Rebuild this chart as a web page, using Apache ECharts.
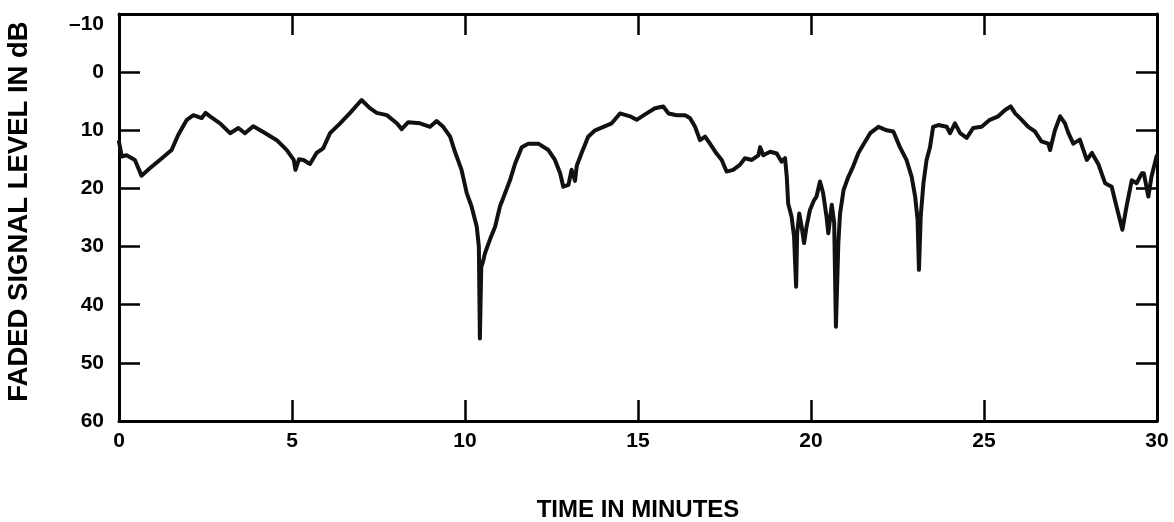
<!DOCTYPE html>
<html>
<head>
<meta charset="utf-8">
<script src="https://cdn.jsdelivr.net/npm/echarts@6/dist/echarts.min.js"></script>
<style>
html,body{margin:0;padding:0;background:#fff;}
#chart{width:1174px;height:522px;}
</style>
</head>
<body>
<div id="chart"></div>
<script>
// Time in minutes
var times = [
0.0,0.08,0.22,0.46,0.65,0.9,1.18,1.52,1.71,1.96,2.15,2.39,2.5,2.63,2.92,3.21,3.45,3.64,3.88,4.17,
4.56,4.85,5.05,5.1,5.2,5.33,5.52,5.71,5.9,6.1,6.39,6.68,6.92,7.01,7.25,7.45,7.74,8.03,8.17,8.36,
8.7,8.99,9.18,9.37,9.57,9.71,9.9,10.05,10.19,10.34,10.4,10.43,10.47,10.51,10.58,10.72,10.87,11.01,11.16,11.3,
11.45,11.64,11.83,12.12,12.41,12.6,12.75,12.84,12.99,13.08,13.18,13.23,13.37,13.56,13.76,14.0,14.24,14.48,14.77,14.96,
15.25,15.49,15.73,15.88,16.12,16.36,16.5,16.65,16.79,16.94,17.08,17.27,17.42,17.56,17.75,17.95,18.09,18.29,18.48,18.53,
18.62,18.82,19.01,19.15,19.25,19.3,19.34,19.44,19.51,19.57,19.6,19.66,19.73,19.8,19.87,19.97,20.09,20.16,20.26,20.35,
20.45,20.5,20.6,20.67,20.72,20.79,20.84,20.94,21.08,21.22,21.37,21.51,21.71,21.95,22.19,22.38,22.57,22.76,22.91,23.01,
23.08,23.12,23.17,23.25,23.34,23.44,23.53,23.68,23.92,24.02,24.16,24.31,24.5,24.69,24.93,25.17,25.41,25.61,25.77,25.9,
26.09,26.28,26.47,26.66,26.86,26.91,27.05,27.2,27.34,27.44,27.58,27.77,27.97,28.12,28.31,28.5,28.69,28.83,29.0,29.12,
29.27,29.41,29.56,29.62,29.75,29.84,29.99
];
// Faded signal level in dB
var levels = [
12.0,14.5,14.3,15.1,17.8,16.5,15.1,13.4,10.8,8.2,7.4,7.9,7.0,7.6,8.8,10.5,9.6,10.5,9.3,10.3,
11.7,13.4,15.1,16.8,15.0,15.1,15.8,13.9,13.1,10.5,8.8,7.0,5.4,4.8,6.2,7.0,7.4,8.8,9.8,8.6,
8.8,9.4,8.4,9.4,11.1,13.7,16.8,20.8,23.1,26.6,30.0,45.8,33.5,32.8,31.1,28.8,26.6,23.1,20.8,18.6,
15.7,12.9,12.3,12.3,13.4,15.1,17.4,19.7,19.4,16.8,18.7,16.1,13.9,11.1,10.0,9.4,8.8,7.1,7.6,8.2,
7.1,6.2,5.9,7.1,7.4,7.4,7.9,9.4,11.7,11.1,12.3,14.0,15.1,17.1,16.8,15.9,14.8,15.1,14.3,12.9,
14.3,13.7,14.0,15.4,14.8,18.0,22.6,24.9,28.3,36.9,27.7,24.3,26.6,29.4,26.6,23.7,22.0,21.4,18.8,20.8,
24.9,27.7,22.8,25.9,43.8,29.4,24.3,20.3,18.0,16.2,13.9,12.5,10.5,9.4,10.0,10.2,12.9,15.1,18.0,21.4,
25.4,34.0,24.9,19.1,15.1,12.9,9.4,9.1,9.4,10.5,8.8,10.5,11.3,9.6,9.4,8.2,7.6,6.5,5.9,7.1,
8.2,9.4,10.2,11.9,12.3,13.4,10.0,7.6,8.8,10.5,12.3,11.6,15.1,13.9,15.9,19.1,19.7,23.1,27.1,23.1,
18.6,19.1,17.4,17.4,21.4,18.0,14.4
];
var xTicks = [0, 5, 10, 15, 20, 25, 30];
var yTickLabels = ['\u201310', '0', '10', '20', '30', '40', '50', '60'];

var points = times.map(function (t, i) { return [t, levels[i]]; });

var FONT = "'Liberation Sans', Arial, Helvetica, sans-serif";
var chart = echarts.init(document.getElementById('chart'));
var tickStyle = { color: '#000', width: 2.5 };
var lineStyle = { color: '#000', width: 3 };

chart.setOption({
  backgroundColor: '#fff',
  animation: false,
  grid: { left: 119, right: 17, top: 14, bottom: 101, containLabel: false, outerBoundsMode: 'none' },
  xAxis: [{
    type: 'value', min: 0, max: 30, interval: 5, position: 'bottom',
    name: 'TIME IN MINUTES', nameLocation: 'middle', nameGap: 77,
    nameTextStyle: { fontFamily: FONT, fontWeight: 'bold', fontSize: 24, color: '#000' },
    axisLine: { show: true, onZero: false, lineStyle: lineStyle },
    axisTick: { show: true, inside: true, length: 21, lineStyle: tickStyle },
    axisLabel: { margin: 10, fontFamily: FONT, fontWeight: 'bold', fontSize: 21, color: '#000',
      formatter: function (v) { return xTicks.indexOf(v) >= 0 ? String(v) : ''; } },
    splitLine: { show: false }
  }, {
    type: 'value', min: 0, max: 30, interval: 5, position: 'top',
    axisLine: { show: true, onZero: false, lineStyle: lineStyle },
    axisTick: { show: true, inside: true, length: 21, lineStyle: tickStyle },
    axisLabel: { show: false }, splitLine: { show: false }
  }],
  yAxis: [{
    type: 'value', min: -10, max: 60, interval: 10, inverse: true, position: 'left',
    name: 'FADED SIGNAL LEVEL IN dB', nameLocation: 'middle', nameGap: 86,
    nameTextStyle: { fontFamily: FONT, fontWeight: 'bold', fontSize: 27.5, color: '#000', padding: [0, 0, 0, 12] },
    axisLine: { show: true, onZero: false, lineStyle: lineStyle },
    axisTick: { show: true, inside: true, length: 21, lineStyle: tickStyle },
    axisLabel: { margin: 15, fontFamily: FONT, fontWeight: 'bold', fontSize: 21, color: '#000',
      formatter: function (v) {
        var s = yTickLabels[Math.round((v + 10) / 10)];
        return v === -10 ? '{top|' + s + '}' : s;
      },
      rich: { top: { fontFamily: FONT, fontWeight: 'bold', fontSize: 21, color: '#000', padding: [20, 0, 0, 0] } }
    },
    splitLine: { show: false }
  }, {
    type: 'value', min: -10, max: 60, interval: 10, inverse: true, position: 'right',
    axisLine: { show: true, onZero: false, lineStyle: lineStyle },
    axisTick: { show: true, inside: true, length: 21, lineStyle: tickStyle },
    axisLabel: { show: false }, splitLine: { show: false }
  }],
  series: [{
    type: 'line', xAxisIndex: 0, yAxisIndex: 0,
    data: points, showSymbol: false, symbol: 'none',
    lineStyle: { color: '#111', width: 4, join: 'round', cap: 'round' },
    smooth: false
  }]
});
</script>
</body>
</html>
